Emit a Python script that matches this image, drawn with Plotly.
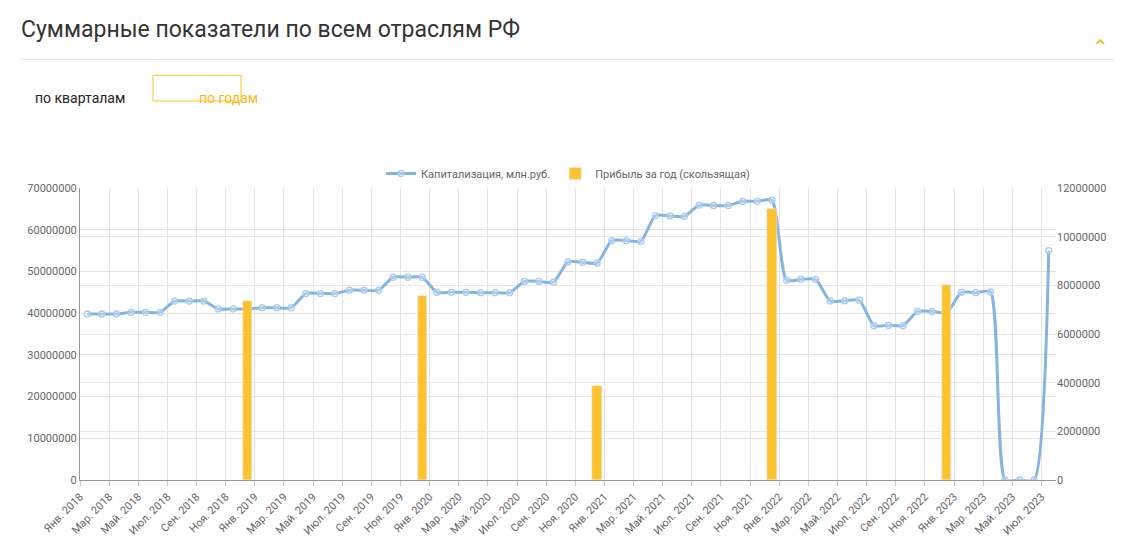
import plotly.graph_objects as go

months = ["Янв.", "Фев.", "Мар.", "Апр.", "Май.", "Июн.", "Июл.", "Авг.", "Сен.", "Окт.", "Ноя.", "Дек."]
years = [2018, 2019, 2020, 2021, 2022, 2023]
labels = [f"{m} {y}" for y in years for m in months][:67]

# капитализация, по месяцам (янв. 2018 - июл. 2023)
cap = [39.8, 39.8, 39.8, 40.2, 40.2, 40.2, 42.9, 42.9, 42.9, 41.0, 41.0, 41.0,
       41.3, 41.3, 41.3, 44.7, 44.7, 44.7, 45.5, 45.5, 45.5, 48.6, 48.6, 48.6,
       45.0, 45.0, 45.0, 44.9, 44.9, 44.9, 47.6, 47.6, 47.4, 52.3, 52.2, 52.0,
       57.4, 57.4, 57.2, 63.4, 63.3, 63.2, 65.9, 65.8, 65.8, 66.8, 66.8, 67.1,
       47.9, 48.1, 48.1, 42.9, 43.0, 43.1, 37.0, 37.1, 37.0, 40.4, 40.4, 40.1,
       45.0, 44.9, 45.1, 0, 0, 0, 55.0]
cap = [v * 1e6 for v in cap]

# прибыль за год (скользящая), на декабрь каждого года
profit_idx = [11, 23, 35, 47, 59]
profit = [7.35e6, 7.56e6, 3.86e6, 11.13e6, 8.01e6]

x = list(range(len(cap)))
tick_idx = list(range(0, len(cap), 2))

fig = go.Figure()
fig.add_trace(go.Bar(
    x=profit_idx, y=profit, yaxis="y2", width=0.65,
    marker=dict(color="#fdc22f"), name="Прибыль за год (скользящая)",
))
fig.add_trace(go.Scatter(
    x=x, y=cap, mode="lines+markers", line=dict(color="#85b4e0", width=3, shape="spline", smoothing=0.6),
    marker=dict(size=6, color="rgba(255,255,255,0.3)", line=dict(color="#a9cbee", width=1.3)),
    name="Капитализация, млн.руб.",
))

# верхняя панель: заголовок, разделитель, переключатель
fig.add_shape(type="line", xref="paper", yref="paper", x0=-0.061, x1=1.064, y0=1.44, y1=1.44,
              line=dict(color="#e6e6e6", width=1))
fig.add_shape(type="rect", xref="paper", yref="paper", x0=0.0748, x1=0.165, y0=1.298, y1=1.386,
              line=dict(color="#fdc22f", width=1), fillcolor="white")

fig.add_annotation(text="Суммарные показатели по всем отраслям РФ", xref="paper", yref="paper",
                   x=-0.063, y=1.544, xanchor="left", yanchor="middle", showarrow=False,
                   font=dict(size=23, color="#333", family="Roboto"))
fig.add_annotation(text="⌃", xref="paper", yref="paper", x=1.056, y=1.53, showarrow=False,
                   font=dict(size=20, color="#fdb913"))
fig.add_annotation(text="по кварталам", xref="paper", yref="paper", x=-0.048, y=1.342,
                   xanchor="left", showarrow=False, font=dict(size=14, color="#222", family="Roboto"))
fig.add_annotation(text="по годам", xref="paper", yref="paper", x=0.12, y=1.342,
                   showarrow=False, font=dict(size=14, color="#fdb913", family="Roboto"))

fig.update_layout(
    width=1122, height=542,
    margin=dict(l=72, r=74, t=180, b=68),
    plot_bgcolor="white", paper_bgcolor="white",
    font=dict(family="Roboto", size=11, color="#666"),
    showlegend=True,
    legend=dict(orientation="h", x=0.5, xanchor="center", y=1.0, yanchor="bottom",
                traceorder="reversed", font=dict(size=11, color="#666")),
    bargap=0,
    xaxis=dict(range=[-0.5, len(cap) - 0.5], tickvals=[i - 0.5 for i in tick_idx],
               ticktext=[labels[i] for i in tick_idx], tickangle=-45, showgrid=True,
               gridcolor="#e3e3e3", showline=True, linecolor="#999", ticks="outside",
               ticklen=5, tickcolor="#ccc", zeroline=False),
    yaxis=dict(range=[0, 70e6], dtick=10e6, tickformat="d", gridcolor="#e3e3e3",
               showline=True, linecolor="#999", zeroline=False),
    yaxis2=dict(range=[0, 12e6], dtick=2e6, tickformat="d", overlaying="y", side="right",
                gridcolor="#e8e8e8", showgrid=True, zeroline=False),
)

fig.write_html("out.html")
